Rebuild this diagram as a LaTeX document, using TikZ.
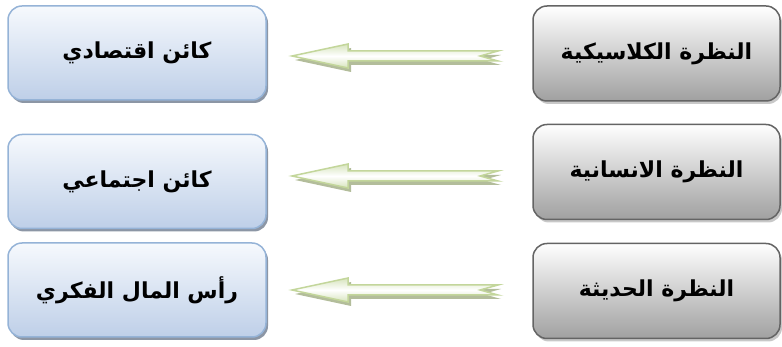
\documentclass[tikz,border=0pt]{standalone}
\usepackage{fontspec}
\newfontfamily\arabicfont[Script=Arabic]{DejaVu Sans}
\TeXXeTstate=1
\usetikzlibrary{shadows,calc}

\definecolor{beingline}{RGB}{149,179,215}
\definecolor{beingtop}{RGB}{246,249,253}
\definecolor{beingbot}{RGB}{190,207,232}
\definecolor{beingshadow}{RGB}{140,150,165}
\definecolor{viewline}{RGB}{100,100,100}
\definecolor{viewtop}{RGB}{255,255,255}
\definecolor{viewbot}{RGB}{160,160,160}
\definecolor{viewshadow}{RGB}{200,200,200}
\definecolor{arrowline}{RGB}{195,214,155}
\definecolor{arrowfill}{RGB}{215,228,189}
\definecolor{arrowshadow}{RGB}{160,172,130}

% big hollow arrow, #1 = tip, #2 = tail
\newcommand{\greenarrow}[2]{%
  \draw[arrowstyle] (#1) -- ++(56,-12) -- ++(0,7) -- ($(#2)+(0,-5)$)
    -- ($(#2)+(-18,0)$) -- ($(#2)+(0,5)$) -- ($(#1)+(56,5)$) -- ++(0,7) -- cycle;}

\begin{document}
\begin{tikzpicture}[x=1pt,y=-1pt]
\useasboundingbox (0,0) rectangle (782,347);
\tikzstyle{arrowstyle}=[draw=arrowline,line width=1.5pt,line join=miter,
  top color=arrowfill,bottom color=arrowfill,middle color=white,
  drop shadow={shadow xshift=3pt,shadow yshift=-4pt,fill=arrowshadow,opacity=0.8}]
\tikzstyle{every node}=[line width=1.5pt,rounded corners=14pt,
  font=\arabicfont\bfseries\fontsize{22}{26}\selectfont]
\tikzstyle{being}=[draw=beingline,minimum width=258pt,minimum height=94pt,
  top color=beingtop,bottom color=beingbot,
  drop shadow={shadow xshift=2pt,shadow yshift=-3pt,fill=beingshadow,opacity=1}]
\tikzstyle{view}=[draw=viewline,minimum width=247pt,minimum height=95pt,
  top color=viewtop,bottom color=viewbot,
  drop shadow={shadow xshift=2pt,shadow yshift=-3pt,fill=viewshadow,opacity=1}]
	\path (656.5,53.5) node[view] (V1) {\beginR النظرة الكلاسيكية\endR};
	\path (656.5,172) node[view] (V2) {\beginR النظرة الانسانية\endR};
	\path (656.5,291) node[view] (V3) {\beginR النظرة الحديثة\endR};
	\path (137,53) node[being] (B1) {\beginR كائن اقتصادي\endR};
	\path (137,181.5) node[being] (B2) {\beginR كائن اجتماعي\endR};
	\path (137,290) node[being] (B3) {\beginR رأس المال الفكري\endR};
	\coordinate (T1) at (292,56);
	\coordinate (S1) at (498,56);
	\coordinate (T2) at (292,176);
	\coordinate (S2) at (498,176);
	\coordinate (T3) at (292,290);
	\coordinate (S3) at (498,290);
	\greenarrow{T1}{S1}
	\greenarrow{T2}{S2}
	\greenarrow{T3}{S3}
\end{tikzpicture}
\end{document}
